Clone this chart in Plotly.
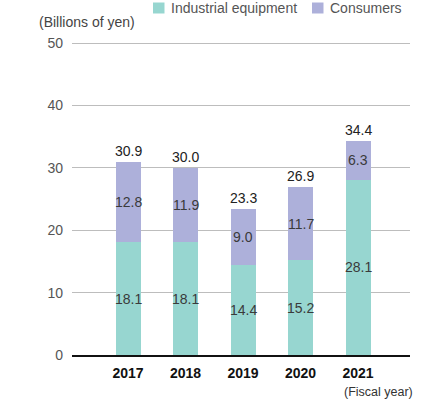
import plotly.graph_objects as go

# Sales by segment (billions of yen)
years = ["2017", "2018", "2019", "2020", "2021"]
industrial = [18.1, 18.1, 14.4, 15.2, 28.1]
consumers = [12.8, 11.9, 9.0, 11.7, 6.3]
totals = [30.9, 30.0, 23.3, 26.9, 34.4]
y_ticks = [0, 10, 20, 30, 40, 50]

TEAL = "#97d6d0"
LAVENDER = "#adb0da"
FONT = "Liberation Sans, Arial, Helvetica, sans-serif"

# canvas and plot-area geometry (pixels)
W, H = 431, 401
ML, MR, MT, MB = 72, 21, 37, 46
pw, ph = W - ML - MR, H - MT - MB


def px_to_paper(px, py):
    return (px - ML) / pw, 1 - (py - MT) / ph


xpos = list(range(len(years)))

fig = go.Figure()
fig.add_trace(go.Bar(x=xpos, y=industrial, name="Industrial equipment",
                     marker=dict(color=TEAL, line=dict(width=0)), width=0.435))
fig.add_trace(go.Bar(x=xpos, y=consumers, name="Consumers",
                     marker=dict(color=LAVENDER, line=dict(width=0)), width=0.435))

annotations = []
for i, (a, b, t) in enumerate(zip(industrial, consumers, totals)):
    # segment values centred in each segment
    annotations.append(dict(x=i, y=a / 2, text=f"{a:.1f}", showarrow=False,
                            xref="x", yref="y", font=dict(size=14, color="#3a3a3a")))
    annotations.append(dict(x=i, y=a + b / 2, text=f"{b:.1f}", showarrow=False,
                            xref="x", yref="y", font=dict(size=14, color="#3a3a3a")))
    # total above the stack
    annotations.append(dict(x=i, y=a + b, text=f"{t:.1f}", showarrow=False,
                            xref="x", yref="y", yanchor="bottom", yshift=1,
                            font=dict(size=14, color="#222")))

# unit label
ux, uy = px_to_paper(37, 22)
annotations.append(dict(x=ux, y=uy, xref="paper", yref="paper", text="(Billions of yen)",
                        showarrow=False, xanchor="left", yanchor="middle",
                        font=dict(size=14, color="#444")))
# fiscal-year note under the last category
annotations.append(dict(x=4, y=0, xref="x", yref="y", text="(Fiscal year)",
                        showarrow=False, xanchor="center", yanchor="top", xshift=20, yshift=-28,
                        font=dict(size=12.5, color="#333")))

# legend drawn as swatches + labels
shapes = []
for (sx, label, col) in [(153, "Industrial equipment", TEAL), (312, "Consumers", LAVENDER)]:
    x0, y0 = px_to_paper(sx, 2.5)
    x1, y1 = px_to_paper(sx + 11.5, 13.5)
    shapes.append(dict(type="rect", xref="paper", yref="paper", x0=x0, y0=y1, x1=x1, y1=y0,
                       fillcolor=col, line=dict(width=0)))
    tx, ty = px_to_paper(sx + 16, 8)
    annotations.append(dict(x=tx, y=ty, xref="paper", yref="paper", text=label,
                            showarrow=False, xanchor="left", yanchor="middle",
                            font=dict(size=14, color="#555")))

fig.update_layout(
    barmode="stack",
    width=W, height=H,
    margin=dict(l=ML, r=MR, t=MT, b=MB, pad=0),
    paper_bgcolor="white", plot_bgcolor="white",
    font=dict(family=FONT, size=14, color="#555"),
    showlegend=False,
    annotations=annotations,
    shapes=shapes,
    xaxis=dict(range=[-0.974, 4.904], tickmode="array", tickvals=xpos,
               ticktext=[f"<b>{y}</b>" for y in years],
               tickfont=dict(size=14, color="#111"),
               showgrid=False, zeroline=False, showline=True, linecolor="#111", linewidth=1.5,
               ticks="", ticklabelstandoff=4),
    yaxis=dict(range=[0, 51], tickvals=y_ticks, showgrid=True, gridcolor="#bdbdbd",
               gridwidth=1, zeroline=False, ticks="", tickfont=dict(size=14, color="#555"),
               ticklabelstandoff=8, fixedrange=True),
)

fig.write_html("out.html")
